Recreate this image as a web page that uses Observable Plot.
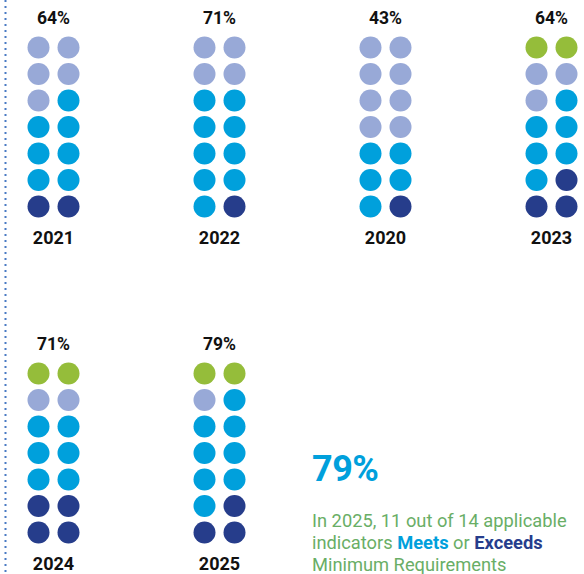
<!DOCTYPE html>
<html>
<head>
<meta charset="utf-8">
<script src="https://cdn.jsdelivr.net/npm/d3@7"></script>
<script src="https://cdn.jsdelivr.net/npm/@observablehq/plot@0.6"></script>
<style>
  html, body { margin: 0; padding: 0; background: #fff; }
  #wrap { position: relative; width: 584px; height: 574px; overflow: hidden; font-family: Roboto, "Noto Sans", sans-serif; }
  #note { position: absolute; left: 312px; top: 445px; width: 272px; }
  #big { font-size: 36px; font-weight: 700; color: #00a0dc; line-height: 48px; letter-spacing: -0.5px; }
  #para { margin-top: 17px; font-size: 18.3px; line-height: 22px; color: #69ae66; }
  #para .m { color: #00a0dc; font-weight: 700; }
  #para .e { color: #263d8c; font-weight: 700; }
</style>
</head>
<body>
<div id="wrap">
  <div id="chart"></div>
  <div id="note">
    <div id="big">79%</div>
    <div id="para">In 2025, 11 out of 14 applicable<br>indicators <span class="m">Meets</span> or <span class="e">Exceeds</span><br>Minimum Requirements</div>
  </div>
</div>
<script>
// ---- data ----
const years     = ["2021", "2022", "2020", "2023", "2024", "2025"];
const percents  = ["64%", "71%", "43%", "64%", "71%", "79%"];
const panelCols = [0, 1, 2, 3, 0, 1];
const panelRows = [0, 0, 0, 0, 1, 1];
// 7 rows x 2 columns per year, top to bottom (G = not applicable, L = does not meet, M = meets, E = exceeds)
const grids = [
  ["LL", "LL", "LM", "MM", "MM", "MM", "EE"],
  ["LL", "LL", "MM", "MM", "MM", "MM", "ME"],
  ["LL", "LL", "LL", "LL", "MM", "MM", "ME"],
  ["GG", "LL", "LM", "MM", "MM", "ME", "EE"],
  ["GG", "LL", "MM", "MM", "MM", "EE", "EE"],
  ["GG", "LM", "MM", "MM", "MM", "ME", "EE"]
];
const categories = ["G", "L", "M", "E"];
const catColors  = ["#95bd3a", "#98a9d7", "#00a0dc", "#263d8b"];

// ---- layout constants (grid units) ----
const PANEL_STEP_X = 166 / 30;   // panel spacing in dot-column units
const PANEL_STEP_Y = 326 / 26.5; // panel spacing in dot-row units

const dots = [];
years.forEach((yr, i) => {
  grids[i].forEach((rowStr, r) => {
    [...rowStr].forEach((c, col) => {
      dots.push({year: yr, cat: c, x: panelCols[i] * PANEL_STEP_X + col, y: panelRows[i] * PANEL_STEP_Y + r});
    });
  });
});
const labels = years.map((yr, i) => ({
  year: yr, pct: percents[i],
  x: panelCols[i] * PANEL_STEP_X + 0.5,
  yTop: panelRows[i] * PANEL_STEP_Y - 1.1,
  yBot: panelRows[i] * PANEL_STEP_Y + 7.2
}));

const chart = Plot.plot({
  width: 584,
  height: 574,
  margin: 0,
  x: {type: "linear", domain: [-38 / 30, (584 - 38) / 30], range: [0, 584], axis: null},
  y: {type: "linear", domain: [-47 / 26.5, (574 - 47) / 26.5], range: [0, 574], axis: null},
  color: {domain: categories, range: catColors},
  style: {fontFamily: "Roboto, 'Noto Sans', sans-serif", background: "transparent"},
  marks: [
    Plot.ruleX([-33 / 30], {stroke: "#4a7bc4", strokeWidth: 2, strokeDasharray: "2,4"}),
    Plot.dot(dots, {x: "x", y: "y", r: 11, fill: "cat", stroke: null}),
    Plot.text(labels, {x: "x", y: "yTop", text: "pct", fontSize: 17.5, fontWeight: 700, fill: "#111"}),
    Plot.text(labels, {x: "x", y: "yBot", text: "year", fontSize: 18, fontWeight: 700, fill: "#111"})
  ]
});
document.getElementById("chart").appendChild(chart);
</script>
</body>
</html>
